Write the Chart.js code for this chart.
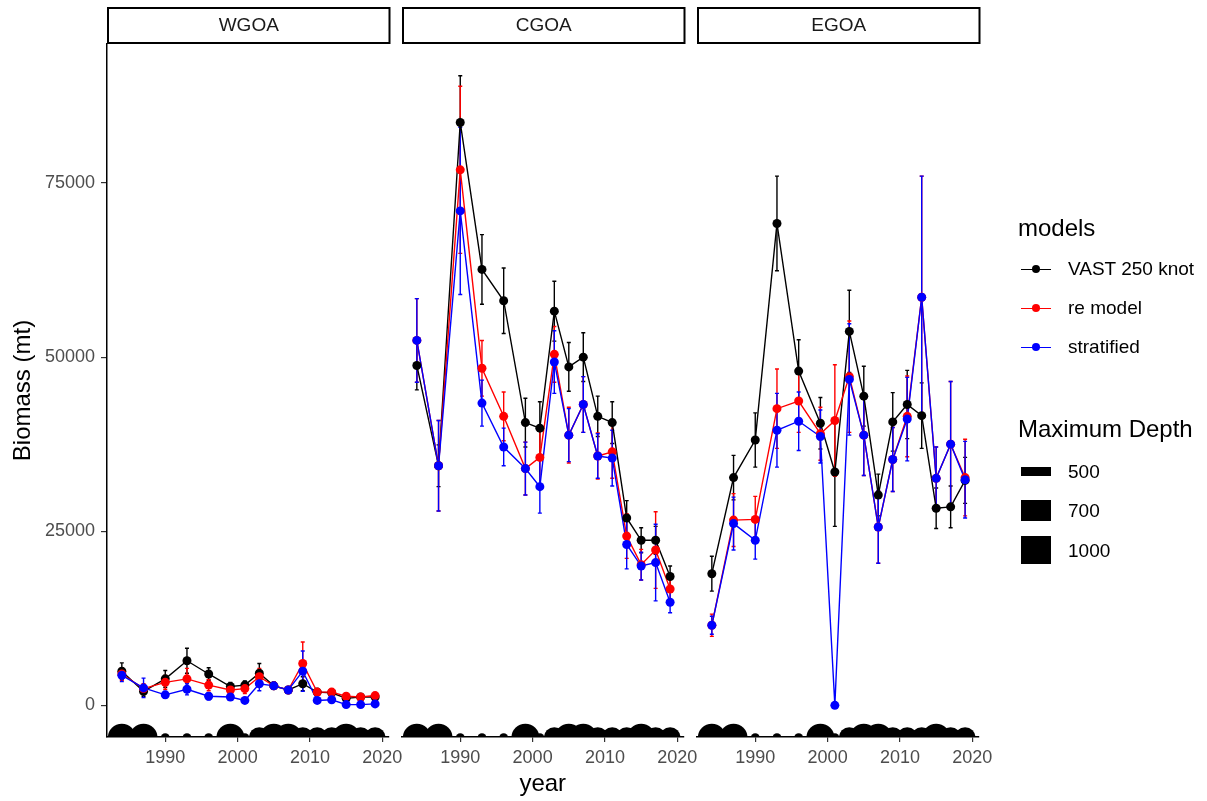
<!DOCTYPE html>
<html>
<head>
<meta charset="utf-8">
<script src="https://cdn.jsdelivr.net/npm/chart.js@4.4.1/dist/chart.umd.min.js"></script>
<style>
  html, body { margin: 0; padding: 0; background: #ffffff; }
  #wrap { position: relative; width: 1207px; height: 801px; overflow: hidden;
          font-family: "Liberation Sans", Arial, sans-serif; }
  #wrap canvas { position: absolute; left: 0; top: 0; }
  .lg-title { position: absolute; left: 1018px; font-size: 24px; line-height: 28px; color: #000; white-space: nowrap; }
  .lg-text { position: absolute; left: 1068px; font-size: 19px; line-height: 22px; color: #000; white-space: nowrap; }
  .lg-line { position: absolute; left: 1021px; width: 30px; height: 1.5px; }
  .lg-dot { position: absolute; left: 1032px; width: 8px; height: 8px; border-radius: 50%; }
  .lg-bar { position: absolute; left: 1021px; width: 30px; background: #000; }
</style>
</head>
<body>
<div id="wrap">
  <canvas id="p0" width="1207" height="801"></canvas>
  <canvas id="p1" width="1207" height="801"></canvas>
  <canvas id="p2" width="1207" height="801"></canvas>

  <div class="lg-title" style="top:214px">models</div>
  <div class="lg-line" style="top:268.5px;background:#000"></div>
  <div class="lg-dot" style="top:265px;background:#000"></div>
  <div class="lg-text" style="top:258px">VAST 250 knot</div>
  <div class="lg-line" style="top:307.5px;background:#ff0000"></div>
  <div class="lg-dot" style="top:304px;background:#ff0000"></div>
  <div class="lg-text" style="top:297px">re model</div>
  <div class="lg-line" style="top:346.5px;background:#0000ff"></div>
  <div class="lg-dot" style="top:343px;background:#0000ff"></div>
  <div class="lg-text" style="top:336px">stratified</div>

  <div class="lg-title" style="top:415px">Maximum Depth</div>
  <div class="lg-bar" style="top:467px;height:9px"></div>
  <div class="lg-text" style="top:461px">500</div>
  <div class="lg-bar" style="top:500px;height:21px"></div>
  <div class="lg-text" style="top:500px">700</div>
  <div class="lg-bar" style="top:536px;height:28px"></div>
  <div class="lg-text" style="top:540px">1000</div>
</div>

<script>
// Survey years and tick labels
const years = [1984, 1987, 1990, 1993, 1996, 1999, 2001, 2003, 2005, 2007, 2009, 2011, 2013, 2015, 2017, 2019];
const xTicks = [1990, 2000, 2010, 2020];
const yTicks = [0, 25000, 50000, 75000];
const regions = ["WGOA", "CGOA", "EGOA"];

// Maximum survey depth (m) for each year
const maxDepth = [1000, 1000, 500, 500, 500, 1000, 500, 700, 1000, 1000, 700, 700, 700, 1000, 700, 700];

// WGOA biomass (mt) and error-bar half widths
const wgoaVast  = [4900, 2000, 3800, 6400, 4500, 2700, 2900, 4600, 2800, 2200, 3100, 1900, 1800, 1000, 1200, 1200];
const wgoaRe    = [4500, 2400, 3300, 3800, 2900, 2200, 2400, 4100, 2800, 2200, 6000, 1900, 1900, 1300, 1200, 1400];
const wgoaStrat = [4300, 2500, 1500, 2300, 1300, 1200, 700, 3100, 2800, 2200, 4900, 700, 800, 100, 100, 200];
const wgoaVastErr  = [1200, 700, 1200, 1800, 900, 600, 600, 1400, 500, 400, 1000, 400, 400, 300, 300, 300];
const wgoaReErr    = [900, 700, 1000, 1500, 800, 600, 700, 1200, 500, 400, 3100, 400, 400, 300, 300, 300];
const wgoaStratErr = [900, 1400, 500, 800, 500, 400, 300, 1000, 500, 400, 2900, 200, 200, 100, 100, 100];

// CGOA biomass (mt) and error-bar half widths
const cgoaVast  = [48800, 34400, 83700, 62600, 58100, 40600, 39800, 56600, 48600, 50000, 41500, 40600, 26900, 23700, 23700, 18500];
const cgoaRe    = [52400, 34400, 76900, 48400, 41500, 34000, 35600, 50400, 38800, 43200, 35800, 36400, 24300, 20200, 22300, 16700];
const cgoaStrat = [52400, 34400, 71000, 43400, 37100, 34000, 31400, 49300, 38800, 43200, 35800, 35500, 23100, 20000, 20500, 14800];
const cgoaVastErr  = [3500, 3000, 6700, 5000, 4700, 3500, 3800, 4300, 3500, 3500, 2900, 3000, 2500, 1800, 2000, 1500];
const cgoaReErr    = [6000, 6500, 12000, 4000, 3500, 3800, 3800, 4000, 4000, 4000, 3300, 3800, 3200, 2200, 5500, 1600];
const cgoaStratErr = [6000, 6500, 12000, 3300, 2700, 3800, 3800, 4500, 3800, 4000, 3200, 4000, 3500, 2000, 5500, 1500];

// EGOA biomass (mt) and error-bar half widths
const egoaVast  = [18900, 32700, 38100, 69200, 48000, 40500, 33500, 53700, 44400, 30200, 40700, 43200, 41600, 28300, 28500, 32300];
const egoaRe    = [11500, 26600, 26700, 42600, 43700, 39000, 40900, 47200, 38800, 25600, 35300, 41500, 58600, 32600, 37500, 32700];
const egoaStrat = [11500, 26100, 23700, 39500, 40800, 38600, 0, 46800, 38800, 25600, 35300, 41100, 58600, 32600, 37500, 32400];
const egoaVastErr  = [2500, 3200, 3900, 6800, 4500, 3700, 7800, 5900, 4300, 3000, 4200, 4900, 4700, 2900, 3000, 3300];
const egoaReErr    = [1600, 3800, 3300, 5700, 4500, 3800, 8000, 8000, 5800, 5200, 4600, 5800, 17400, 4500, 9000, 5500];
const egoaStratErr = [1300, 3800, 2700, 5300, 4200, 3800, 0, 8000, 5800, 5200, 4600, 6000, 17400, 4500, 9000, 5500];

const FONT = '"Liberation Sans", Arial, sans-serif';
Chart.defaults.font.family = FONT;

const X_MIN = 1981.95, X_MAX = 2020.85;
const Y_MIN = -4550, Y_MAX = 94970;
const DEPTH_Y = -4650;                       // baseline the depth markers sit on
const depthRadius = { 500: 4.5, 700: 10.5, 1000: 14 };
const COLORS = { vast: "#000000", re: "#ff0000", strat: "#0000ff" };

// panel horizontal placement (plot area left/right, px)
const panelLeft  = [107, 402, 697];
const panelRight = [388.5, 683.5, 978.5];

function pts(vals) { return years.map((yr, i) => ({ x: yr, y: vals[i] })); }

function errorBarPlugin(series) {
  return {
    id: "errorBars",
    beforeDatasetsDraw(chart) {
      const { ctx, chartArea, scales: { x, y } } = chart;
      ctx.save();
      ctx.beginPath();
      ctx.rect(chartArea.left, chartArea.top, chartArea.right - chartArea.left, chartArea.bottom - chartArea.top);
      ctx.clip();
      ctx.lineWidth = 1.4;
      series.forEach(s => {
        ctx.strokeStyle = s.color;
        years.forEach((yr, i) => {
          if (!s.err[i]) return;
          const px = x.getPixelForValue(yr);
          const lo = y.getPixelForValue(s.vals[i] - s.err[i]);
          const hi = y.getPixelForValue(s.vals[i] + s.err[i]);
          ctx.beginPath();
          ctx.moveTo(px, lo); ctx.lineTo(px, hi);
          ctx.moveTo(px - 2, lo); ctx.lineTo(px + 2, lo);
          ctx.moveTo(px - 2, hi); ctx.lineTo(px + 2, hi);
          ctx.stroke();
        });
      });
      ctx.restore();
    }
  };
}

function stripPlugin(label) {
  return {
    id: "strip",
    afterDraw(chart) {
      const { ctx, chartArea } = chart;
      ctx.save();
      ctx.lineWidth = 2;
      ctx.strokeStyle = "#000";
      ctx.strokeRect(chartArea.left + 1, 8, chartArea.right - chartArea.left, 35);
      ctx.fillStyle = "#1a1a1a";
      ctx.font = "19px " + FONT;
      ctx.textAlign = "center";
      ctx.textBaseline = "middle";
      ctx.fillText(label, (chartArea.left + chartArea.right) / 2 + 1, 26);
      ctx.restore();
    }
  };
}

function makePanel(idx, vast, re, strat, vastErr, reErr, stratErr) {
  const depthPts = years.map(yr => ({ x: yr, y: DEPTH_Y }));
  const datasets = [
    { label: "depth", data: depthPts, showLine: false, clip: 0,
      pointRadius: maxDepth.map(d => depthRadius[d]), pointBackgroundColor: "#000",
      pointBorderWidth: 0, order: 20 },
    { label: "VAST 250 knot line", data: pts(vast), showLine: true, borderColor: COLORS.vast,
      borderWidth: 1.4, pointRadius: 0, order: 9 },
    { label: "re model line", data: pts(re), showLine: true, borderColor: COLORS.re,
      borderWidth: 1.4, pointRadius: 0, order: 8 },
    { label: "stratified line", data: pts(strat), showLine: true, borderColor: COLORS.strat,
      borderWidth: 1.4, pointRadius: 0, order: 7 },
    { label: "VAST 250 knot", data: pts(vast), showLine: false, pointRadius: 4.5,
      pointBackgroundColor: COLORS.vast, pointBorderWidth: 0, order: 6 },
    { label: "re model", data: pts(re), showLine: false, pointRadius: 4.5,
      pointBackgroundColor: COLORS.re, pointBorderWidth: 0, order: 5 },
    { label: "stratified", data: pts(strat), showLine: false, pointRadius: 4.5,
      pointBackgroundColor: COLORS.strat, pointBorderWidth: 0, order: 4 }
  ];

  const yScale = {
    type: "linear", min: Y_MIN, max: Y_MAX, display: idx === 0,
    afterBuildTicks: s => { s.ticks = yTicks.map(v => ({ value: v })); },
    grid: { drawOnChartArea: false, drawTicks: true, tickLength: 6, color: "#333333", lineWidth: 1.2 },
    border: { display: true, color: "#000000", width: 1.5 },
    ticks: { color: "#4d4d4d", font: { size: 18 }, padding: 6, callback: v => String(v) },
    title: { display: true, text: "Biomass (mt)", color: "#000", font: { size: 24 }, padding: { top: 9, bottom: 0 } }
  };
  if (idx === 0) yScale.afterFit = s => { s.width = panelLeft[0]; };

  const cfg = {
    type: "scatter",
    data: { datasets },
    options: {
      responsive: false,
      animation: false,
      events: [],
      devicePixelRatio: 1,
      layout: { padding: { left: idx === 0 ? 0 : panelLeft[idx], right: 1207 - panelRight[idx], top: 44, bottom: 0 } },
      plugins: { legend: { display: false }, tooltip: { enabled: false } },
      scales: {
        x: {
          type: "linear", min: X_MIN, max: X_MAX,
          afterBuildTicks: s => { s.ticks = xTicks.map(v => ({ value: v })); },
          afterFit: s => { s.height = 64; },
          grid: { drawOnChartArea: false, drawTicks: true, tickLength: 5, color: "#333333", lineWidth: 1.2 },
          border: { display: true, color: "#000000", width: 1.5 },
          ticks: { color: "#4d4d4d", font: { size: 18 }, padding: 5, maxRotation: 0, autoSkip: false,
                   callback: v => String(v) },
          title: { display: idx === 1, text: "year", color: "#000", font: { size: 24 }, padding: { top: 0, bottom: 2 } }
        },
        y: yScale
      }
    },
    plugins: [
      errorBarPlugin([
        { color: COLORS.vast, vals: vast, err: vastErr },
        { color: COLORS.re, vals: re, err: reErr },
        { color: COLORS.strat, vals: strat, err: stratErr }
      ]),
      stripPlugin(regions[idx])
    ]
  };
  return new Chart(document.getElementById("p" + idx), cfg);
}

makePanel(0, wgoaVast, wgoaRe, wgoaStrat, wgoaVastErr, wgoaReErr, wgoaStratErr);
makePanel(1, cgoaVast, cgoaRe, cgoaStrat, cgoaVastErr, cgoaReErr, cgoaStratErr);
makePanel(2, egoaVast, egoaRe, egoaStrat, egoaVastErr, egoaReErr, egoaStratErr);
</script>
</body>
</html>
